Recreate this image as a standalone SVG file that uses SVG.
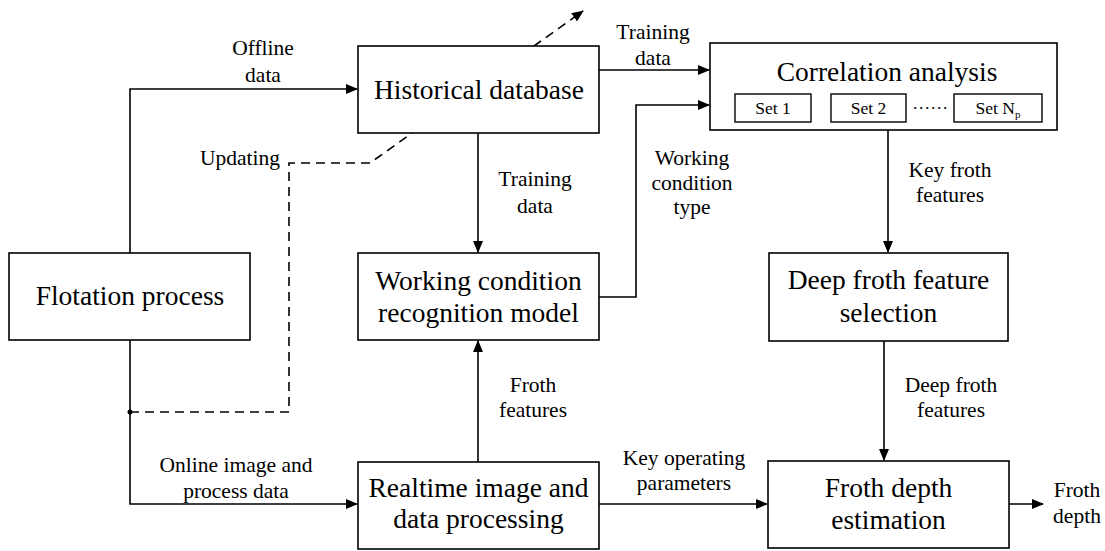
<svg xmlns="http://www.w3.org/2000/svg" width="1105" height="551" viewBox="0 0 1105 551">
<style>
.box{fill:#fff;stroke:#000;stroke-width:1.6}
.sbox{fill:#fff;stroke:#000;stroke-width:1.4}
.ln{fill:none;stroke:#000;stroke-width:1.6}
.dash{fill:none;stroke:#000;stroke-width:1.6;stroke-dasharray:9 6}
text{font-family:'Liberation Serif','DejaVu Serif',serif;text-anchor:middle;fill:#000}
.t{font-size:27.5px}
.l{font-size:21.5px}
.s{font-size:17.5px}
</style>
<defs>
<marker id="ah" markerWidth="12" markerHeight="10" refX="11" refY="5" orient="auto" markerUnits="userSpaceOnUse">
<path d="M0,0 L12,5 L0,10 Z" fill="#000"/>
</marker>
</defs>
<g id="connectors">
<path class="dash" d="M130,412 H289 V163 H370 L583,11" marker-end="url(#ah)"/>
<path class="ln" d="M130,253 V89 H357" marker-end="url(#ah)"/>
<path class="ln" d="M130,340 V504 H357" marker-end="url(#ah)"/>
<circle cx="130" cy="412" r="2.5" fill="#000"/>
<path class="ln" d="M599,70 H709" marker-end="url(#ah)"/>
<path class="ln" d="M599,297 H636 V105 H709" marker-end="url(#ah)"/>
<path class="ln" d="M478,133 V252" marker-end="url(#ah)"/>
<path class="ln" d="M478,462 V341" marker-end="url(#ah)"/>
<path class="ln" d="M888,130 V252" marker-end="url(#ah)"/>
<path class="ln" d="M884,341 V460" marker-end="url(#ah)"/>
<path class="ln" d="M599,504 H767" marker-end="url(#ah)"/>
<path class="ln" d="M1009,504 H1043" marker-end="url(#ah)"/>
<text class="l" x="263" y="55">Offline</text>
<text class="l" x="263" y="82">data</text>
<text class="l" x="653" y="39">Training</text>
<text class="l" x="653" y="65">data</text>
<text class="l" x="240" y="165">Updating</text>
<text class="l" x="535" y="186">Training</text>
<text class="l" x="535" y="213">data</text>
<text class="l" x="692" y="165">Working</text>
<text class="l" x="692" y="190">condition</text>
<text class="l" x="692" y="214">type</text>
<text class="l" x="950" y="177">Key froth</text>
<text class="l" x="950" y="202">features</text>
<text class="l" x="533" y="392">Froth</text>
<text class="l" x="533" y="417">features</text>
<text class="l" x="236" y="472">Online image and</text>
<text class="l" x="236" y="498">process data</text>
<text class="l" x="684" y="465">Key operating</text>
<text class="l" x="684" y="490">parameters</text>
<text class="l" x="951" y="392">Deep froth</text>
<text class="l" x="951" y="417">features</text>
<text class="l" x="1077" y="497">Froth</text>
<text class="l" x="1077" y="523">depth</text>
</g>
<g id="historical">
<rect class="box" x="358" y="46" width="241" height="87"/>
<text class="t" x="479" y="99">Historical database</text>
</g>
<g id="flotation">
<rect class="box" x="9" y="253" width="241" height="87"/>
<text class="t" x="130" y="305">Flotation process</text>
</g>
<g id="working">
<rect class="box" x="358" y="253" width="241" height="87"/>
<text class="t" x="478.5" y="290">Working condition</text>
<text class="t" x="478.5" y="322">recognition model</text>
</g>
<g id="realtime">
<rect class="box" x="358" y="462" width="241" height="87"/>
<text class="t" x="478.5" y="497">Realtime image and</text>
<text class="t" x="478.5" y="528">data processing</text>
</g>
<g id="correlation">
<rect class="box" x="710" y="43" width="347" height="87"/>
<text class="t" x="887" y="81">Correlation analysis</text>
<rect class="sbox" x="735" y="94" width="76" height="28"/>
<text class="s" x="773" y="114">Set 1</text>
<rect class="sbox" x="831" y="94" width="75" height="28"/>
<text class="s" x="868.5" y="114">Set 2</text>
<text class="s" x="931" y="109" letter-spacing="1.6">......</text>
<rect class="sbox" x="954" y="94" width="88" height="28"/>
<text class="s" x="998" y="114">Set N<tspan font-size="11" dy="4">p</tspan></text>
</g>
<g id="deepfroth">
<rect class="box" x="769" y="253" width="239" height="88"/>
<text class="t" x="888.5" y="289">Deep froth feature</text>
<text class="t" x="888.5" y="322">selection</text>
</g>
<g id="frothdepth">
<rect class="box" x="768" y="461" width="241" height="87"/>
<text class="t" x="888.5" y="497">Froth depth</text>
<text class="t" x="888.5" y="529">estimation</text>
</g>
</svg>
